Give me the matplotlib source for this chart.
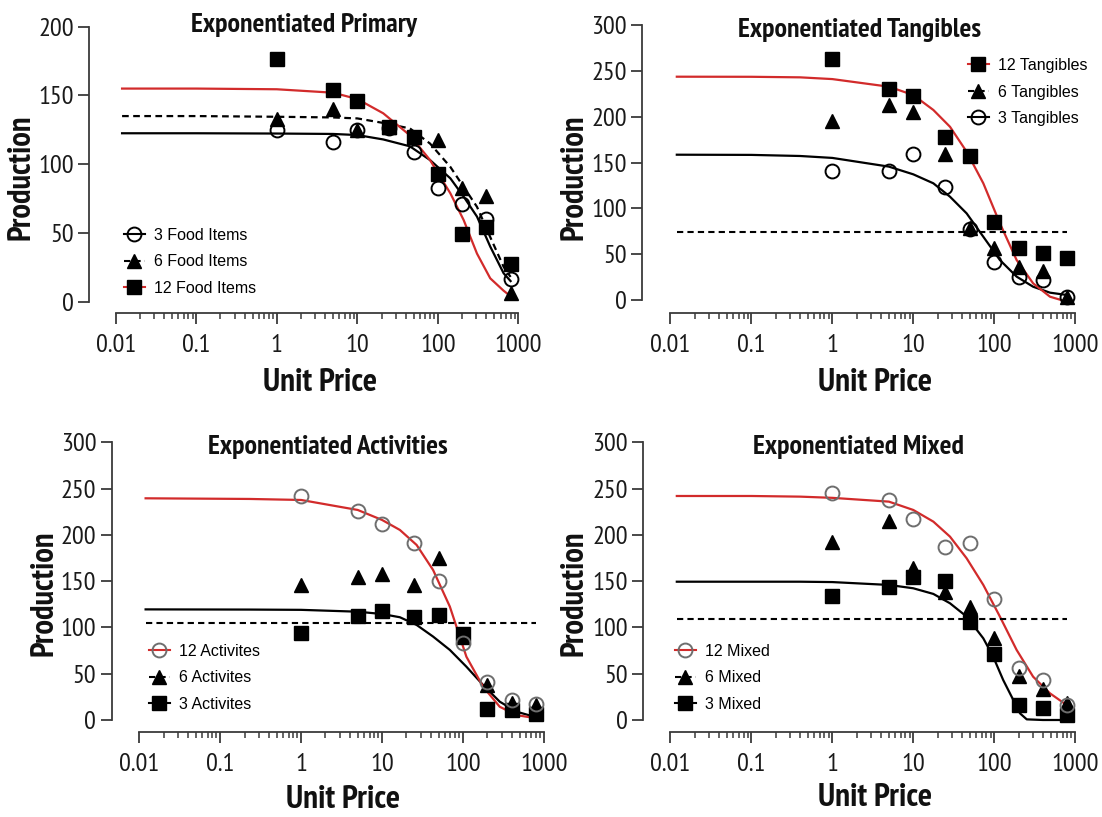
import matplotlib.pyplot as plt
from matplotlib import font_manager
from matplotlib.font_manager import FontProperties
from matplotlib.lines import Line2D
from matplotlib.ticker import FixedLocator, NullFormatter

# narrow font for ticks / titles (reference uses an Arial Narrow look)
ttf = font_manager.fontManager.ttflist
NARROW = None
for cand in ["Liberation Sans Narrow", "Arial Narrow", "PT Sans Narrow", "Roboto Condensed",
             "Archivo Narrow"]:
    weights = {f.weight for f in ttf if f.name == cand}
    if weights and any((w if isinstance(w, int) else 700 if w == "bold" else 400) >= 700
                       for w in weights):
        NARROW = dict(family=cand)
        break
if NARROW is None:
    if any(f.name == "DejaVu Sans" and f.stretch == "condensed" for f in ttf):
        NARROW = dict(family="DejaVu Sans", stretch="condensed")
    else:
        NARROW = dict(family="Liberation Sans")

plt.rcParams["font.family"] = ["Liberation Sans", "DejaVu Sans"]


def nfont(size, bold=False):
    return FontProperties(size=size, weight="bold" if bold else "normal", **NARROW)


W, H = 1102, 817
RED = "#d22b2b"
GREY = "#6e6e6e"

# ---------------------------------------------------------------------------
# data
# ---------------------------------------------------------------------------
price = [1, 5, 10, 25, 50, 100, 200, 400, 800]

# Exponentiated Primary
prim_3 = [124.9, 116.4, 124.9, 126.5, 108.6, 82.4, 70.8, 60.1, 16.2]
prim_6 = [132.9, 139.9, 125.0, 127.0, 120.0, 117.6, 82.4, 76.9, 6.5]
prim_12 = [176.5, 154.0, 146.3, 126.8, 119.9, 93.0, 49.2, 54.5, 27.4]
prim_fit_x = [0.012, 0.1, 1, 5, 10, 21, 45, 80, 143, 209, 306, 447, 655, 800]
prim_fit_3 = [122.5, 122.5, 122.3, 122.0, 121.2, 118.0, 113.0, 103.0, 89.7, 76.4, 61.9, 40.1, 20.7, 15.0]
prim_fit_6 = [135.0, 135.0, 134.5, 134.0, 133.3, 130.0, 126.0, 115.0, 98.0, 83.5, 69.0, 47.0, 25.4, 18.0]
prim_fit_12 = [155.0, 155.0, 154.5, 152.0, 147.4, 137.0, 121.0, 103.0, 78.8, 59.4, 35.0, 17.0, 8.0, 4.0]

# Exponentiated Tangibles
tang_3 = [141.1, 141.1, 159.3, 123.6, 77.5, 41.9, 24.8, 21.8, 2.9]
tang_6 = [195.3, 212.7, 205.5, 158.9, 79.0, 56.4, 36.4, 32.0, 3.6]
tang_12 = [262.9, 229.8, 222.9, 177.5, 157.1, 84.7, 57.1, 50.9, 46.2]
tang_fit_x = [0.012, 0.1, 0.4, 1, 5, 10, 17.7, 28.4, 45.6, 73.3, 117.5, 189, 302, 488, 783]
tang_fit_3 = [158.5, 158.3, 157.1, 155.0, 145.5, 137.1, 127.3, 112.7, 94.5, 69.0, 43.6, 25.5, 14.5, 8.0, 5.5]
tang_fit_12 = [243.6, 243.5, 242.9, 241.0, 232.7, 223.6, 207.3, 189.0, 161.8, 127.3, 83.6, 43.6, 18.2, 3.6, -1.8]
tang_flat_6 = 74.2

# Exponentiated Activities
act_12 = [242.4, 226.2, 211.4, 190.9, 150.6, 83.0, 40.8, 21.1, 17.5]
act_6 = [145.9, 154.9, 157.8, 145.9, 174.6, 90.0, 38.0, 18.2, 16.4]
act_3 = [93.6, 112.6, 118.0, 111.5, 113.3, 92.5, 11.5, 10.8, 6.5]
act_fit_x = [0.012, 0.23, 1, 5, 10, 16.6, 26.7, 42.7, 68.7, 110, 177, 284, 457, 807]
act_fit_12 = [239.5, 238.8, 237.7, 226.9, 216.1, 205.3, 189.1, 162.0, 122.5, 68.4, 35.9, 14.3, 5.3, 1.8]
act_fit_3 = [119.5, 119.3, 119.0, 117.0, 114.5, 111.0, 102.7, 90.1, 75.7, 57.6, 37.8, 19.8, 9.0, 2.9]
act_flat_6 = 104.4

# Exponentiated Mixed
mix_12 = [245.6, 237.7, 217.2, 186.5, 190.9, 130.3, 55.8, 43.2, 16.1]
mix_6 = [192.6, 215.4, 164.0, 138.6, 122.4, 88.2, 47.9, 33.5, 18.0]
mix_3 = [133.9, 143.3, 154.4, 150.0, 106.2, 71.3, 16.1, 12.5, 5.3]
mix_fit12_x = [0.012, 0.1, 0.4, 1, 5, 10, 17.7, 28.4, 45.6, 73.3, 117.5, 189, 302, 488, 783]
mix_fit_12 = [242.0, 242.0, 241.3, 240.0, 235.9, 226.9, 214.3, 198.1, 174.7, 145.9, 111.7, 75.7, 46.8, 28.8, 16.2]
mix_fit3_x = [0.012, 0.1, 0.4, 1, 5, 10, 17.7, 28.4, 45.6, 73.3, 97, 129, 172, 208, 252, 400, 800]
mix_fit_3 = [149.4, 149.4, 149.4, 149.0, 145.9, 142.3, 136.2, 126.1, 111.7, 88.2, 68.4, 43.2, 21.6, 7.2, 0.7, 0.0, 0.0]
mix_flat_6 = 109.1

# ---------------------------------------------------------------------------
# layout in pixels: y-axis x, x=0.01, x=1000, y=0, y=top, x-axis y
# ---------------------------------------------------------------------------
layout = {
    "prim": dict(yx=89.4, x001=115.7, x1000=518.4, y0=301.7, ytop=26.7, xy=313.3, ymax=200),
    "tang": dict(yx=642.2, x001=670.4, x1000=1075.2, y0=300.0, ytop=25.0, xy=313.3, ymax=300),
    "act": dict(yx=111.5, x001=139.2, x1000=544.0, y0=720.0, ytop=442.3, xy=731.7, ymax=300),
    "mix": dict(yx=643.3, x001=670.4, x1000=1075.2, y0=720.0, ytop=442.3, xy=731.7, ymax=300),
}

fig = plt.figure(figsize=(W / 100, H / 100), dpi=100)

minor_x = [m * 10.0 ** e for e in range(-2, 3) for m in range(2, 10)]


def make_axes(p):
    ax = fig.add_axes([p["yx"] / W, 1 - p["xy"] / H,
                       (p["x1000"] - p["yx"]) / W, (p["xy"] - p["ytop"]) / H])
    dec = (p["x1000"] - p["x001"]) / 5
    ax.set_xscale("log")
    ax.set_xlim(10 ** (-2 - (p["x001"] - p["yx"]) / dec), 1000)
    ppu = (p["y0"] - p["ytop"]) / p["ymax"]
    ax.set_ylim(-(p["xy"] - p["y0"]) / ppu, p["ymax"])
    for s in ("top", "right"):
        ax.spines[s].set_visible(False)
    for s in ("left", "bottom"):
        ax.spines[s].set_color("#3a3a3a")
        ax.spines[s].set_linewidth(1.3)
    ax.spines["left"].set_bounds(0, p["ymax"])
    ax.spines["bottom"].set_bounds(0.01, 1000)
    ax.set_yticks(range(0, p["ymax"] + 1, 50))
    ax.xaxis.set_major_locator(FixedLocator([0.01, 0.1, 1, 10, 100, 1000]))
    ax.set_xticklabels(["0.01", "0.1", "1", "10", "100", "1000"])
    ax.xaxis.set_minor_locator(FixedLocator(minor_x))
    ax.xaxis.set_minor_formatter(NullFormatter())
    ax.tick_params(axis="both", which="major", length=8, width=1.3, color="#3a3a3a",
                   labelcolor="#1a1a1a", pad=3)
    ax.tick_params(axis="x", which="major", pad=7)
    ax.tick_params(axis="x", which="minor", length=4, width=1.1, color="#3a3a3a")
    for lab in ax.get_xticklabels() + ax.get_yticklabels():
        lab.set_fontproperties(nfont(19))
    ax.patch.set_alpha(0)
    return ax


def circles(ax, y, ec):
    ax.plot(price, y, ls="none", marker="o", ms=10, mfc="none", mec=ec, mew=1.4,
            clip_on=False, zorder=5)


def triangles(ax, y):
    ax.plot(price, y, ls="none", marker="^", ms=9.5, color="black", clip_on=False, zorder=4)


def squares(ax, y):
    ax.plot(price, y, ls="none", marker="s", ms=9.5, color="black", clip_on=False, zorder=4)


def flat(ax, yval):
    ax.plot([0.012, 800], [yval, yval], color="black", lw=1.5, ls=(0, (3, 2)), zorder=3)


def add_legend(ax, handles, labels, x, y):
    ax.legend(handles, labels, loc="upper left", bbox_to_anchor=(x / W, 1 - y / H),
              bbox_transform=fig.transFigure, frameon=False, fontsize=11.5,
              handlelength=1.3, handletextpad=0.6, labelspacing=0.72,
              borderpad=0, borderaxespad=0)


h_circ = dict(color="black", lw=1.5, marker="o", ms=10, mfc="none", mec="black", mew=1.4)
h_circ_g = dict(color=RED, lw=1.5, marker="o", ms=10, mfc="none", mec=GREY, mew=1.4)
h_tri = dict(color="black", lw=1.5, ls=(0, (3, 2)), marker="^", ms=9.5)
h_sq_r = dict(color=RED, lw=1.5, marker="s", ms=9.5, mfc="black", mec="black")
h_sq_k = dict(color="black", lw=1.5, marker="s", ms=9.5, mfc="black", mec="black")

# ---------------------------------------------------------------------------
# Primary
# ---------------------------------------------------------------------------
ax = make_axes(layout["prim"])
ax.plot(prim_fit_x, prim_fit_3, color="black", lw=1.6, zorder=3)
ax.plot(prim_fit_x, prim_fit_6, color="black", lw=1.6, ls=(0, (3, 2)), zorder=3)
ax.plot(prim_fit_x, prim_fit_12, color=RED, lw=1.6, zorder=3)
triangles(ax, prim_6)
squares(ax, prim_12)
circles(ax, prim_3, "black")
add_legend(ax, [Line2D([], [], **h_circ), Line2D([], [], **h_tri), Line2D([], [], **h_sq_r)],
           ["3 Food Items", "6 Food Items", "12 Food Items"], 124, 228)

# ---------------------------------------------------------------------------
# Tangibles
# ---------------------------------------------------------------------------
ax = make_axes(layout["tang"])
ax.plot(tang_fit_x, tang_fit_3, color="black", lw=1.6, zorder=3)
ax.plot(tang_fit_x, tang_fit_12, color=RED, lw=1.6, zorder=3)
flat(ax, tang_flat_6)
triangles(ax, tang_6)
squares(ax, tang_12)
circles(ax, tang_3, "black")
add_legend(ax, [Line2D([], [], **h_sq_r), Line2D([], [], **h_tri), Line2D([], [], **h_circ)],
           ["12 Tangibles", "6 Tangibles", "3 Tangibles"], 968, 58)

# ---------------------------------------------------------------------------
# Activities
# ---------------------------------------------------------------------------
ax = make_axes(layout["act"])
ax.plot(act_fit_x, act_fit_3, color="black", lw=1.6, zorder=3)
ax.plot(act_fit_x, act_fit_12, color=RED, lw=1.6, zorder=3)
flat(ax, act_flat_6)
triangles(ax, act_6)
squares(ax, act_3)
circles(ax, act_12, GREY)
add_legend(ax, [Line2D([], [], **h_circ_g), Line2D([], [], **h_tri), Line2D([], [], **h_sq_k)],
           ["12 Activites", "6 Activites", "3 Activites"], 149, 644)

# ---------------------------------------------------------------------------
# Mixed
# ---------------------------------------------------------------------------
ax = make_axes(layout["mix"])
ax.plot(mix_fit3_x, mix_fit_3, color="black", lw=1.6, zorder=3)
ax.plot(mix_fit12_x, mix_fit_12, color=RED, lw=1.6, zorder=3)
flat(ax, mix_flat_6)
triangles(ax, mix_6)
squares(ax, mix_3)
circles(ax, mix_12, GREY)
add_legend(ax, [Line2D([], [], **h_circ_g), Line2D([], [], **h_tri), Line2D([], [], **h_sq_k)],
           ["12 Mixed", "6 Mixed", "3 Mixed"], 675, 644)

# ---------------------------------------------------------------------------
# titles and axis labels
# ---------------------------------------------------------------------------
titles = [("Exponentiated Primary", 304, 25), ("Exponentiated Tangibles", 859, 30),
          ("Exponentiated Activities", 328, 447), ("Exponentiated Mixed", 858, 447)]
for txt, x, y in titles:
    fig.text(x / W, 1 - y / H, txt, ha="center", va="center",
             fontproperties=nfont(20, True), color="#111111")

for x, y in [(22, 177), (575, 177), (44, 593), (575, 593)]:
    fig.text(x / W, 1 - y / H, "Production", ha="center", va="center", rotation=90,
             fontproperties=nfont(23.5, True), color="#111111")

for x, y in [(320, 383), (875, 383), (343, 800), (875, 798)]:
    fig.text(x / W, 1 - y / H, "Unit Price", ha="center", va="center",
             fontproperties=nfont(24, True), color="#111111")

fig.savefig("out.png", dpi=100)
